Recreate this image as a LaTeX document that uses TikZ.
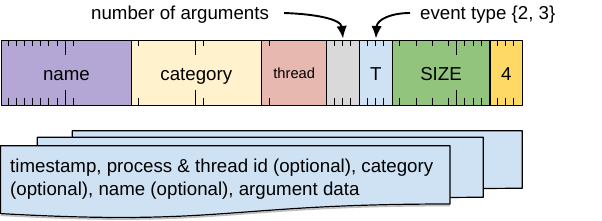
\documentclass[tikz,border=0pt]{standalone}
\usepackage{fontspec}
\setmainfont{Liberation Sans}
\usetikzlibrary{arrows.meta}
\definecolor{cName}{HTML}{B4A7D6}
\definecolor{cCat}{HTML}{FFF2CC}
\definecolor{cThr}{HTML}{E6B8AF}
\definecolor{cGray}{HTML}{D9D9D9}
\definecolor{cBlue}{HTML}{CFE2F3}
\definecolor{cGreen}{HTML}{93C47D}
\definecolor{cGold}{HTML}{FFD966}
\begin{document}
\begin{tikzpicture}[x=1pt,y=-1pt,line join=round,
  seg/.style={draw=black,line width=1.2pt,minimum height=65,inner sep=0,anchor=north west,
    text height=15,text depth=0,font=\fontsize{18.7}{22}\selectfont},
  smallseg/.style={font=\fontsize{14.7}{17}\selectfont,text height=11.6},
  tickline/.style={line width=0.9pt},
  doc/.style={draw=black,line width=1.2pt,fill=cBlue},
  docshadow/.style={draw=black!25,line width=1.6pt},
  lbl/.style={font=\fontsize{18.7}{22}\selectfont,inner sep=0,anchor=base west},
  arr/.style={line width=1.9pt,-{Latex[length=12.5pt,width=10.5pt]},shorten >=1.5pt}]
\useasboundingbox (0,0) rectangle (602,220);

% bar segments
\node[seg,fill=cName,minimum width=130.5] (name) at (0.6,40) {name};
\node[seg,fill=cCat,minimum width=130.5] (cat) at (130.5,40) {category};
\node[seg,smallseg,fill=cThr,minimum width=65.25] (thr) at (261,40) {thread};
\node[seg,fill=cGray,minimum width=32.65] (nargs) at (326.25,40) {};
\node[seg,fill=cBlue,minimum width=32.65] (type) at (358.9,40) {T};
\node[seg,fill=cGreen,minimum width=97.9] (size) at (391.5,40) {SIZE};
\node[seg,fill=cGold,minimum width=32.6] (four) at (489.4,40) {4};

% ticks
\foreach \k in {1,...,7,9,...,15,17,...,23,25,...,31,33,...,39,41,42,43,45,46,47,49,...,55,57,58,59,61,62,63}
  \draw[tickline] (\k*8.156,40) -- ++(0,6) (\k*8.156,105) -- ++(0,-7);
\foreach \k in {8,24,56}
  \draw[tickline] (\k*8.156,40) -- ++(0,15) (\k*8.156,105) -- ++(0,-15);

% top labels and arrows
\node[lbl] (args) at (91,19) {number of arguments};
\node[lbl] (evt) at (420,19) {event type \{2, 3\}};
\coordinate (argsStart) at ([shift={(15,-6)}]args.base east);
\coordinate (evtStart) at ([shift={(-10,-6)}]evt.base west);
\draw[arr] (argsStart) .. controls (315,14) and (341,19) .. (nargs.north);
\draw[arr] (evtStart) .. controls (392,13) and (377,19) .. (type.north);

% stacked documents
\draw[doc] (72.3,130.7) -- (522.3,130.7) -- (522.3,188.3)
  .. controls (297.3,188.3) and (297.3,210.2) .. (72.3,197.8) -- cycle;
\draw[doc] (37.3,137.3) -- (483.3,137.3) -- (483.3,197.3)
  .. controls (260.3,197.3) and (260.3,220.1) .. (37.3,207.2) -- cycle;
\draw[docshadow] (450,205.6) .. controls (225,205.6) and (225,227.8) .. (0.6,215.2);
\draw[doc] (0.6,145.7) -- (450,145.7) -- (450,204)
  .. controls (225,204) and (225,226.2) .. (0.6,213.6) -- cycle;

\node[lbl] (l1) at (10,172) {timestamp, process \& thread id (optional), category};
\node[lbl] (l2) at (10,195) {(optional), name (optional), argument data};
\end{tikzpicture}
\end{document}
